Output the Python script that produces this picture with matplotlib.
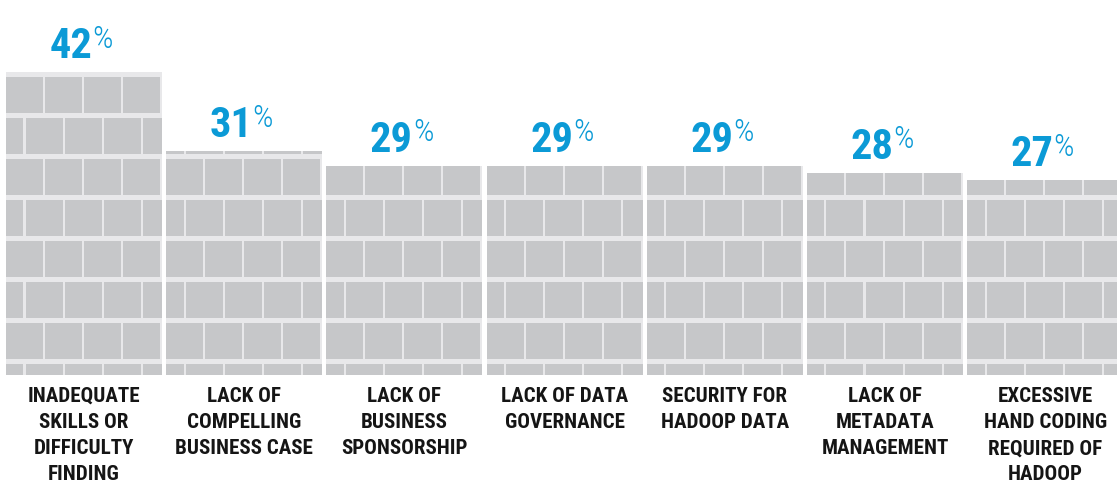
import matplotlib
matplotlib.use("Agg")
import matplotlib.pyplot as plt
from matplotlib.patches import Rectangle

# data
categories = [
    "INADEQUATE\nSKILLS OR\nDIFFICULTY\nFINDING",
    "LACK OF\nCOMPELLING\nBUSINESS CASE",
    "LACK OF\nBUSINESS\nSPONSORSHIP",
    "LACK OF DATA\nGOVERNANCE",
    "SECURITY FOR\nHADOOP DATA",
    "LACK OF\nMETADATA\nMANAGEMENT",
    "EXCESSIVE\nHAND CODING\nREQUIRED OF\nHADOOP",
]
values = [42, 31, 29, 29, 29, 28, 27]

BLUE = "#0b9ad6"
MORTAR = "#e8e8ea"
BRICK = "#c6c7c9"
NARROW = ["Roboto Condensed", "IBM Plex Sans Condensed", "DejaVu Sans"]

W_PX, H_PX = 1117, 492
fig = plt.figure(figsize=(W_PX / 100, H_PX / 100), dpi=100)

# layout: one bar unit = 160.2 px, baseline 375 px from top
unit_px = 160.2
bar_w = 0.974
x0 = -bar_w / 2 - 6 / unit_px
x1 = x0 + W_PX / unit_px
px_per_pct = 303 / max(values)
base_px = 375
ax = fig.add_axes([0, (H_PX - base_px) / H_PX, 1, base_px / H_PX])
ax.set_xlim(x0, x1)
ax.set_ylim(0, base_px / px_per_pct)
ax.axis("off")

# brick geometry (pct / bar units)
row_pitch = 41 / px_per_pct
brick_h = 36 / px_per_pct
top_mortar = 5 / px_per_pct
col_pitch = 39 / unit_px
brick_w = 37 / unit_px
wall_top = max(values)

ax.bar(range(len(values)), values, width=bar_w, color=MORTAR, linewidth=0)

for i, v in enumerate(values):
    L, R = i - bar_w / 2, i + bar_w / 2
    k = 0
    while True:
        yt = wall_top - top_mortar - k * row_pitch
        yb = yt - brick_h
        if yt <= 0:
            break
        ytc, ybc = min(yt, v), max(yb, 0)
        if ytc > ybc:
            start = L if k % 2 == 0 else L - col_pitch / 2
            xs = start
            while xs < R:
                xl, xr = max(xs, L), min(xs + brick_w, R)
                if xr > xl:
                    ax.add_patch(Rectangle((xl, ybc), xr - xl, ytc - ybc,
                                           facecolor=BRICK, linewidth=0))
                xs += col_pitch
        k += 1

# value labels: big bold number + light small %
PT = 0.72  # points per pixel at dpi 100
fig.canvas.draw()
renderer = fig.canvas.get_renderer()
for i, v in enumerate(values):
    t = ax.annotate(str(v), (i, v), xytext=(-13 * PT, 14 * PT), textcoords="offset points",
                    ha="center", va="baseline", fontsize=30.5, fontweight="bold",
                    color=BLUE, family=NARROW)
    bb = t.get_window_extent(renderer)
    xd, _ = ax.transData.inverted().transform((bb.x1, bb.y0))
    ax.annotate("%", (xd, v), xytext=(0, 24.5 * PT), textcoords="offset points",
                ha="left", va="baseline", fontsize=23, fontweight="light",
                color=BLUE, family=NARROW)

# category labels
for i, c in enumerate(categories):
    ax.annotate(c, (i, 0), xytext=(0, -12 * PT), textcoords="offset points",
                ha="center", va="top", fontsize=15.1, fontweight="bold",
                color="#151515", family=NARROW, linespacing=1.47,
                annotation_clip=False)

fig.savefig("out.png", dpi=100)
